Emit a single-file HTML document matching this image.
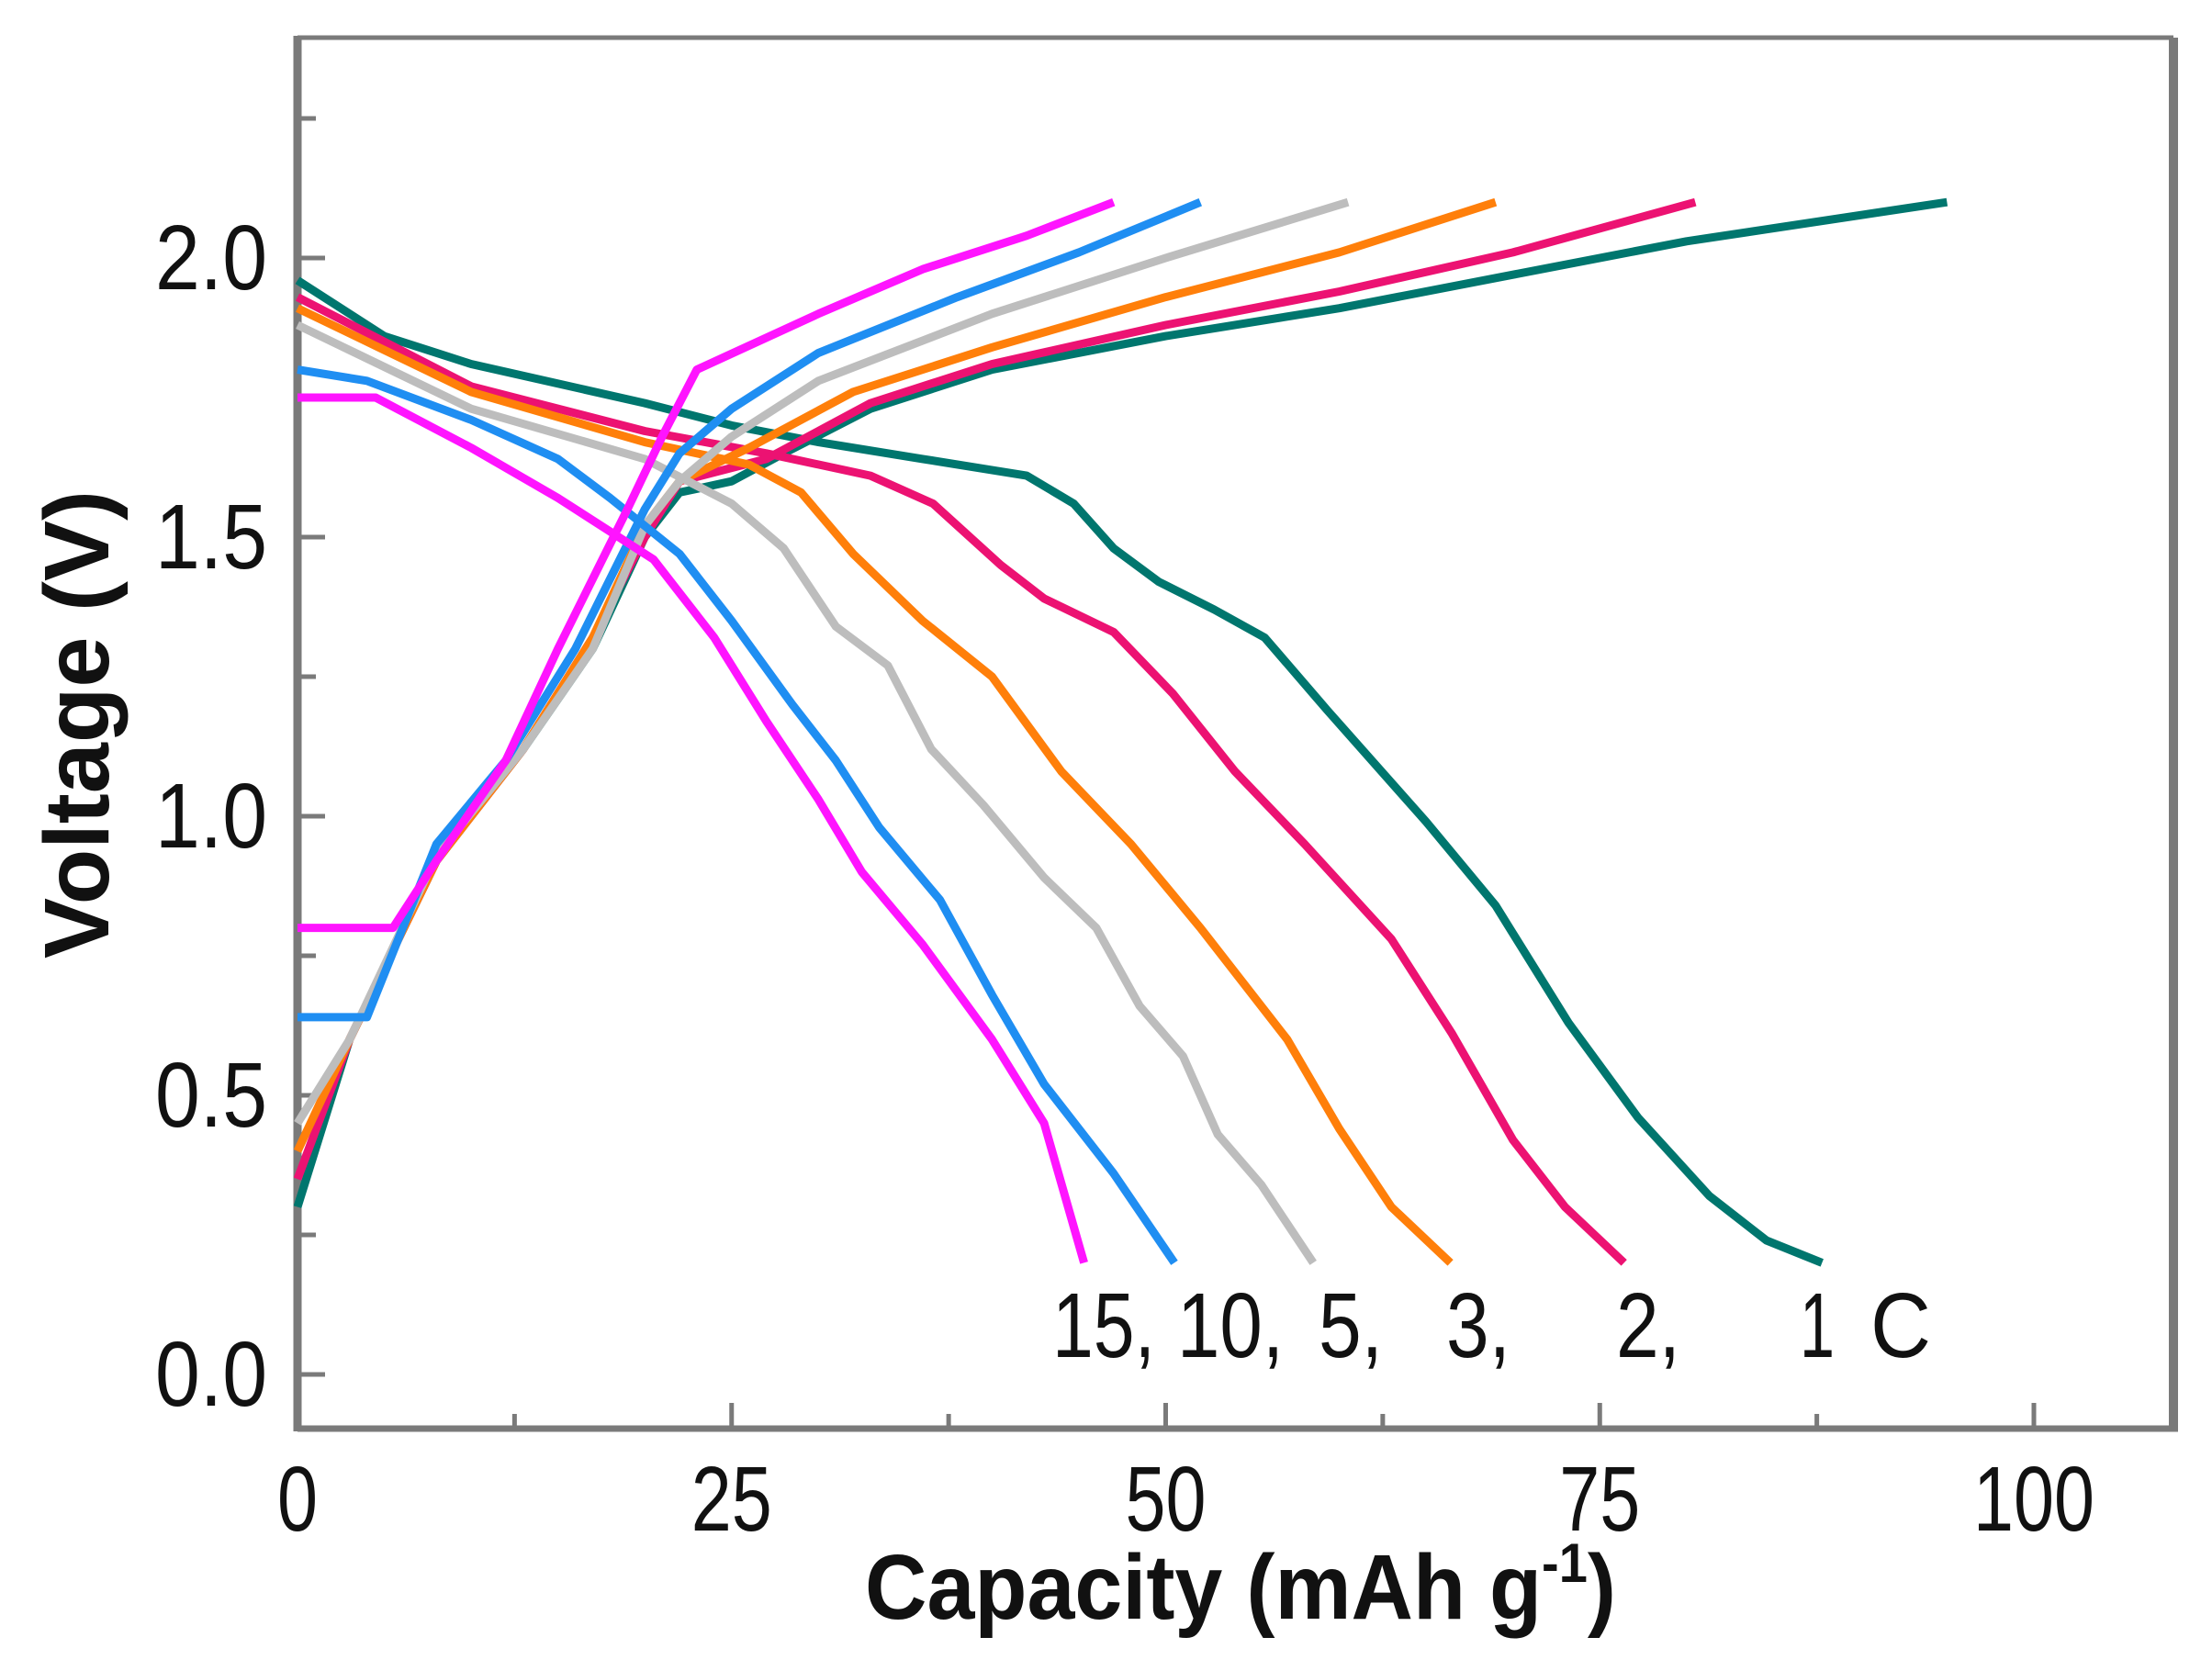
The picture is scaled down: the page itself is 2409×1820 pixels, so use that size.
<!DOCTYPE html>
<html><head><meta charset="utf-8"><style>
html,body{margin:0;padding:0;background:#fff;}
svg{display:block;font-family:"Liberation Sans Narrow","Liberation Sans",sans-serif;}
</style></head><body>
<svg id="chart" width="2409" height="1820" viewBox="0 0 2409 1820" xmlns="http://www.w3.org/2000/svg">
<g id="frame"></g>
<g id="series"></g>
<g id="labels"></g>
</svg>
<script>
const xTicks = [0, 25, 50, 75, 100];
const xTickLabels = ["0", "25", "50", "75", "100"];
const yTicks = [0, 0.5, 1.0, 1.5, 2.0];
const yTickLabels = ["0.0", "0.5", "1.0", "1.5", "2.0"];
const seriesNames = ["1C", "2C", "3C", "5C", "10C", "15C"];
const seriesColors = ["#00766e", "#ec1272", "#ff7f0a", "#bdbdbd", "#1f8ef2", "#ff14ff"];
// discharge curves [capacity, voltage]
const dis1C = [[0,1.96],[5,1.86],[10,1.81],[20,1.74],[25,1.70],[30,1.67],[36,1.64],[42,1.61],[44.7,1.56],[47,1.48],[49.6,1.42],[52.8,1.37],[55.7,1.32],[59.3,1.19],[65,0.99],[69,0.84],[73.2,0.63],[77.2,0.46],[81.3,0.32],[84.6,0.24],[87.8,0.2]];
const dis2C = [[0,1.93],[10,1.77],[20,1.69],[27,1.65],[33,1.61],[36.6,1.56],[40.5,1.45],[43,1.39],[47,1.33],[50.4,1.22],[54,1.08],[58,0.95],[63,0.78],[66.5,0.61],[70,0.42],[73,0.3],[76.4,0.2]];
const dis3C = [[0,1.91],[10,1.76],[20,1.67],[26,1.63],[29,1.58],[32,1.47],[36,1.35],[40,1.25],[44,1.08],[48,0.95],[52,0.8],[57,0.6],[60,0.44],[63,0.3],[66.4,0.2]];
const dis5C = [[0,1.88],[10,1.73],[20,1.64],[25,1.56],[28,1.48],[31,1.34],[34,1.27],[36.5,1.12],[39.5,1.02],[43,0.89],[46,0.8],[48.5,0.66],[51,0.57],[53,0.43],[55.5,0.34],[58.5,0.2]];
const dis10C = [[0,1.8],[4,1.78],[10,1.71],[15,1.64],[18,1.57],[22,1.47],[25,1.35],[28.5,1.2],[31,1.1],[33.5,0.98],[37,0.85],[40,0.68],[43,0.52],[47,0.36],[50.5,0.2]];
const dis15C = [[0,1.75],[4.5,1.75],[10,1.66],[15,1.57],[20.5,1.46],[24,1.32],[27,1.17],[30,1.03],[32.5,0.9],[36,0.77],[40,0.6],[43,0.45],[45.3,0.2]];
// charge curves
const chg1C = [[0,0.3],[3,0.6],[8,0.92],[13,1.12],[17,1.3],[20,1.5],[22,1.58],[25,1.6],[28,1.65],[33,1.73],[40,1.8],[50,1.86],[60,1.91],[70,1.97],[80,2.03],[95,2.1]];
const chg2C = [[0,0.35],[3,0.6],[8,0.92],[13,1.12],[17,1.32],[20,1.5],[22,1.6],[27,1.64],[33,1.74],[40,1.81],[50,1.88],[60,1.94],[70,2.01],[80.5,2.1]];
const chg3C = [[0,0.4],[3,0.6],[8,0.92],[13,1.12],[17,1.32],[20,1.52],[22,1.6],[26,1.66],[32,1.76],[40,1.84],[50,1.93],[60,2.01],[69,2.1]];
const chg5C = [[0,0.45],[3,0.6],[8,0.93],[13,1.12],[17,1.3],[20,1.52],[22,1.6],[25,1.68],[30,1.78],[40,1.9],[50,2.0],[60.5,2.1]];
const chg10C = [[0,0.64],[4,0.64],[8,0.95],[12,1.1],[16,1.3],[20,1.55],[22,1.65],[25,1.73],[30,1.83],[38,1.93],[45,2.01],[52,2.1]];
const chg15C = [[0,0.8],[5.5,0.8],[8,0.92],[12,1.1],[15,1.3],[19,1.55],[21,1.68],[23,1.8],[30,1.9],[36,1.98],[42,2.04],[47,2.1]];
const dischargeSets = [dis1C, dis2C, dis3C, dis5C, dis10C, dis15C];
const chargeSets = [chg1C, chg2C, chg3C, chg5C, chg10C, chg15C];
const annotationTexts = ["15,", "10,", "5,", "3,", "2,", "1", "C"];

const NS = "http://www.w3.org/2000/svg";
const X0 = 324, XPX = 18.91, Y0 = 1497, YPX = 608;
const L = 324, R = 2367, T = 41, B = 1556;
function sx(v){ return X0 + v * XPX; }
function sy(v){ return Y0 - v * YPX; }
function mk(tag, attrs, parent){ const e = document.createElementNS(NS, tag); for (const k in attrs) e.setAttribute(k, attrs[k]); parent.appendChild(e); return e; }

const frame = document.getElementById('frame');
const axColor = "#7a7a7a";
let e;
e = mk('line', {x1:L, y1:T, x2:R, y2:T, stroke:axColor, 'stroke-width':5}, frame);
 
e = mk('line', {x1:R, y1:T, x2:R, y2:B, stroke:axColor, 'stroke-width':10}, frame);
 
e = mk('line', {x1:L, y1:B, x2:R+5, y2:B, stroke:axColor, 'stroke-width':7}, frame);
 
e = mk('line', {x1:L, y1:T-2, x2:L, y2:B+3, stroke:axColor, 'stroke-width':9}, frame);
 

const labels = document.getElementById('labels');
for (let i = 0; i < xTicks.length; i++) {
  const x = sx(xTicks[i]);
  e = mk('line', {x1:x, y1:B, x2:x, y2:B-28, stroke:axColor, 'stroke-width':5}, frame);
   
  const m = sx(xTicks[i] + 12.5);
  if (m < R) {
    e = mk('line', {x1:m, y1:B, x2:m, y2:B-16, stroke:axColor, 'stroke-width':5}, frame);
     
  }
  const t = mk('text', {x:x, y:1667, 'text-anchor':'middle', 'font-size':100, fill:'#111', textLength:xTickLabels[i].length*44, lengthAdjust:'spacingAndGlyphs'}, labels);
  t.textContent = xTickLabels[i];
   
}
for (let i = 0; i < yTicks.length; i++) {
  const y = sy(yTicks[i]);
  e = mk('line', {x1:L, y1:y, x2:L+30, y2:y, stroke:axColor, 'stroke-width':5}, frame);
   
  const m = sy(yTicks[i] + 0.25);
  e = mk('line', {x1:L, y1:m, x2:L+20, y2:m, stroke:axColor, 'stroke-width':5}, frame);
   
  const t = mk('text', {x:291, y:y+34, 'text-anchor':'end', 'font-size':100, fill:'#111', textLength:122, lengthAdjust:'spacingAndGlyphs'}, labels);
  t.textContent = yTickLabels[i];
   
}

const series = document.getElementById('series');
function drawLine(pts, color, name){
  const d = pts.map((p, i) => (i ? 'L' : 'M') + sx(p[0]).toFixed(1) + ' ' + sy(p[1]).toFixed(1)).join(' ');
  const p = mk('path', {d:d, fill:'none', stroke:color, 'stroke-width':9, 'stroke-linejoin':'round', 'stroke-linecap':'butt'}, series);
  
  
}
for (let i = 0; i < seriesNames.length; i++) {
  drawLine(dischargeSets[i], seriesColors[i], 'discharge-' + seriesNames[i].toLowerCase());
  drawLine(chargeSets[i], seriesColors[i], 'charge-' + seriesNames[i].toLowerCase());
}

const annX = [1146, 1282, 1436, 1575, 1760, 1960, 2037];
const annW = [112, 116, 70, 70, 70, 38, 66];
for (let i = 0; i < annotationTexts.length; i++) {
  const t = mk('text', {x:annX[i], y:1478, 'font-size':100, fill:'#111', textLength:annW[i], lengthAdjust:'spacingAndGlyphs'}, labels);
  t.textContent = annotationTexts[i];
   
}
let t = mk('text', {x:942, y:1763, 'font-size':100, 'font-weight':'bold', fill:'#111', textLength:818, lengthAdjust:'spacingAndGlyphs'}, labels);
t.innerHTML = 'Capacity (mAh g<tspan dy="-40" font-size="60">-1</tspan><tspan dy="40">)</tspan>';
 
t = mk('text', {x:0, y:0, 'font-size':100, 'font-weight':'bold', fill:'#111', 'text-anchor':'middle', transform:'translate(118,789) rotate(-90)', textLength:510, lengthAdjust:'spacingAndGlyphs'}, labels);
t.textContent = "Voltage (V)";
 
</script>
</body></html>
